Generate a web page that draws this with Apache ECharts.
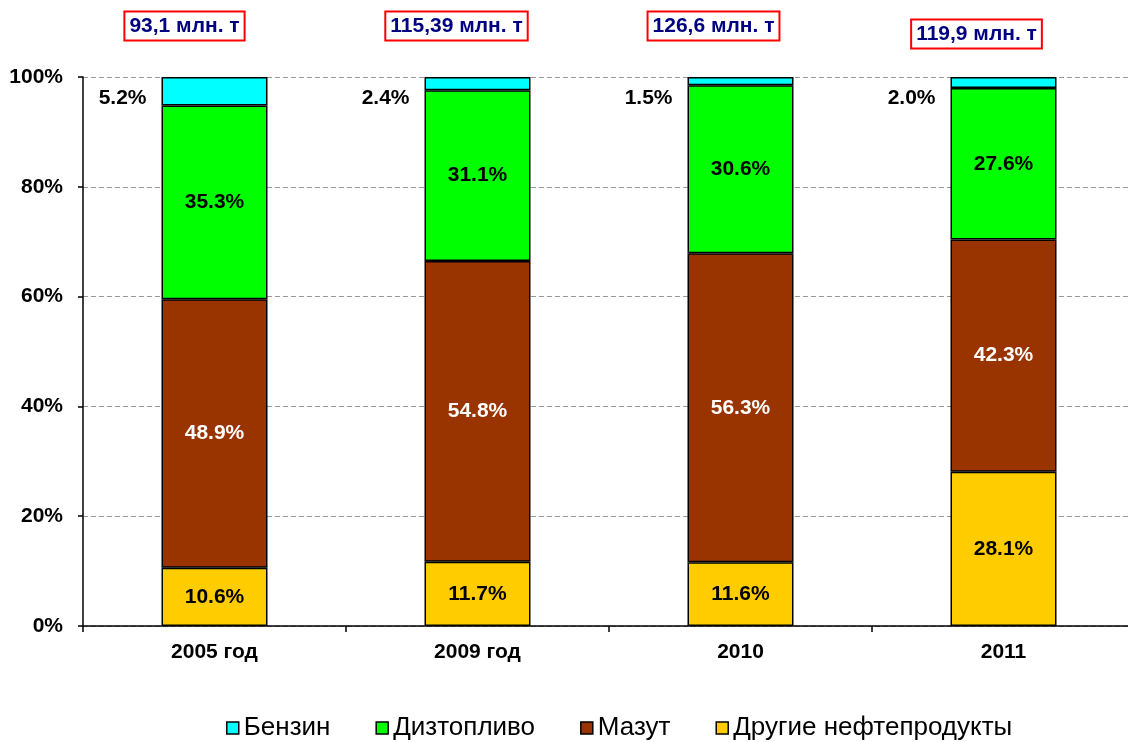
<!DOCTYPE html>
<html>
<head>
<meta charset="utf-8">
<script src="https://cdn.jsdelivr.net/npm/echarts@6/dist/echarts.min.js"></script>
<style>
  html, body { margin: 0; padding: 0; background: #fff; }
  #main { width: 1128px; height: 742px; }
</style>
</head>
<body>
<div id="main"></div>
<script>
// данные
const years = ['2005 год', '2009 год', '2010', '2011'];
const totals = ['93,1 млн. т', '115,39 млн. т', '126,6 млн. т', '119,9 млн. т'];
const benzin = [5.2, 2.4, 1.5, 2.0];
const dizel = [35.3, 31.1, 30.6, 27.6];
const mazut = [48.9, 54.8, 56.3, 42.3];
const drugie = [10.6, 11.7, 11.6, 28.1];
const yTicks = [0, 20, 40, 60, 80, 100];

const chart = echarts.init(document.getElementById('main'));

const font = 'Liberation Sans, Arial, sans-serif';

// общий стиль сегмента
const seg = (name, data, color, textColor, label) => ({
  name: name,
  type: 'bar',
  stack: 'all',
  data: data,
  barWidth: 106,
  itemStyle: { color: color, borderColor: '#000', borderWidth: 1.5 },
  label: label || {
    show: true,
    position: 'inside',
    color: textColor,
    fontFamily: font,
    fontWeight: 'bold',
    fontSize: 21,
    formatter: p => p.value.toFixed(1) + '%'
  }
});

chart.setOption({
  animation: false,
  backgroundColor: '#fff',
  grid: { left: 83, width: 1052, top: 77, bottom: 116, outerBoundsMode: 'none' },
  legend: {
    left: 221,
    bottom: -4,
    itemWidth: 12,
    itemHeight: 12,
    itemGap: 45,
    icon: 'rect',
    textStyle: { fontFamily: font, fontSize: 26, color: '#000' },
    data: ['Бензин', 'Дизтопливо', 'Мазут', 'Другие нефтепродукты'].map(n => ({
      name: n,
      itemStyle: { borderColor: '#000', borderWidth: 1.5 }
    }))
  },
  xAxis: {
    type: 'category',
    data: years,
    axisLine: { lineStyle: { color: '#000', width: 1.5 } },
    axisTick: { show: true, length: 6, lineStyle: { color: '#000', width: 1.5 } },
    axisLabel: {
      margin: 16,
      color: '#000',
      fontFamily: font,
      fontWeight: 'bold',
      fontSize: 21
    }
  },
  yAxis: {
    type: 'value',
    min: yTicks[0],
    max: yTicks[yTicks.length - 1],
    interval: yTicks[1] - yTicks[0],
    axisLine: { show: true, lineStyle: { color: '#000', width: 1.5 } },
    axisTick: { show: true, length: 5, lineStyle: { color: '#000', width: 1.5 } },
    axisLabel: {
      margin: 20,
      color: '#000',
      fontFamily: font,
      fontWeight: 'bold',
      fontSize: 21,
      formatter: '{value}%'
    },
    splitLine: { lineStyle: { color: '#999', type: [5, 3], width: 1.2 } }
  },
  series: [
    seg('Другие нефтепродукты', drugie, '#FFCC00', '#000'),
    seg('Мазут', mazut, '#993300', '#fff'),
    seg('Дизтопливо', dizel, '#00FF00', '#000'),
    seg('Бензин', benzin, '#00FFFF', '#000', {
      show: true,
      position: [-15, 21],
      align: 'right',
      verticalAlign: 'middle',
      color: '#000',
      fontFamily: font,
      fontWeight: 'bold',
      fontSize: 21,
      formatter: p => p.value.toFixed(1) + '%'
    })
  ]
});

// подписи объёмов над столбцами
const shiftX = [-30, -21, -27, -27];
const shiftY = [-51, -51, -51, -43];
const boxes = years.map((y, i) => {
  const pt = chart.convertToPixel({ seriesIndex: 0 }, [i, 100]);
  return {
    type: 'text',
    x: pt[0] + shiftX[i],
    y: pt[1] + shiftY[i],
    style: {
      text: totals[i],
      align: 'center',
      verticalAlign: 'middle',
      fill: '#000080',
      font: 'bold 21px ' + font,
      borderColor: '#f00',
      borderWidth: 2,
      padding: [3, 4, 3, 4],
      backgroundColor: '#fff'
    }
  };
});
chart.setOption({ graphic: boxes });
</script>
</body>
</html>
